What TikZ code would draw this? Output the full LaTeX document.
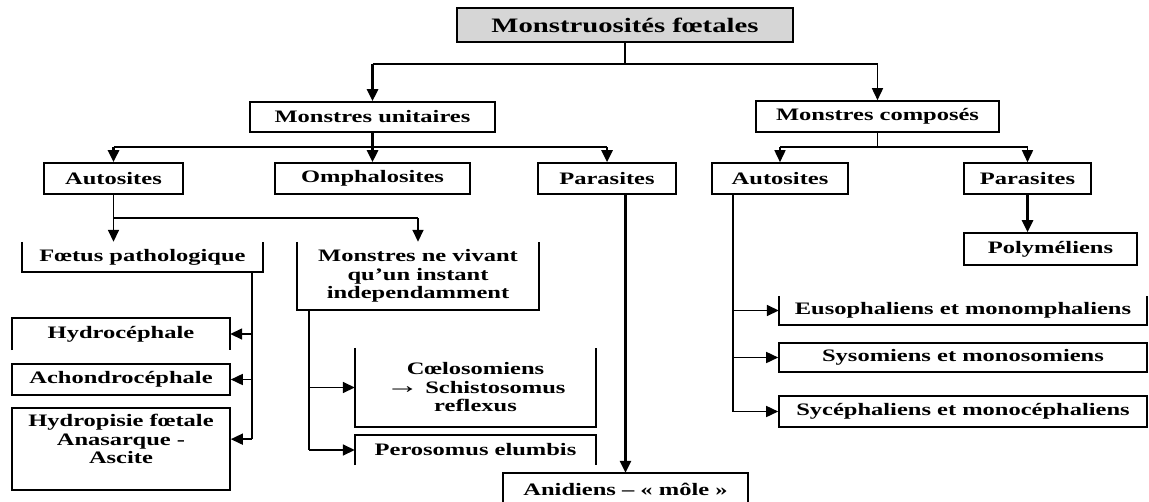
\documentclass[tikz,border=0pt]{standalone}
\usepackage{fontspec}
\setmainfont{Liberation Serif}[FakeStretch=1.4]
\usetikzlibrary{arrows.meta,positioning}
\definecolor{titlegray}{HTML}{D6D6D6}

\begin{document}
\begin{tikzpicture}[x=1pt, y=-1pt, >={Triangle[length=12pt,width=11pt]},
  every node/.style={font=\fontsize{17.5}{18.5}\selectfont\bfseries, align=center, inner sep=0pt},
  box/.style={draw, line width=1.6pt, minimum height=31pt},
  bare/.style={minimum height=30pt},
  link/.style={line width=1.6pt},
  bold/.style={line width=2.6pt}]
  \path[use as bounding box, fill=white] (0,0) rectangle (1149,501);

  \node[box, fill=titlegray, minimum width=336pt, minimum height=34pt, font=\fontsize{20.5}{22}\selectfont\bfseries] (mf) at (625,25) {Monstruosités fœtales};
  \node[box, minimum width=245pt, minimum height=30pt] (mu) at (372.5,117) {Monstres unitaires};
  \node[box, minimum width=243pt] (mc) at (877.5,116.5) {Monstres composés};
  \node[box, minimum width=139pt] (au) at (113.5,178.5) {Autosites};
  \node[box, minimum width=195pt] (om) at (372.5,178.5) {Omphalosites};
  \node[box, minimum width=138pt] (pu) at (607,178.5) {Parasites};
  \node[box, minimum width=136pt] (ac) at (780,178.5) {Autosites};
  \node[box, minimum width=127pt] (pc) at (1027.5,178.5) {Parasites};
  \node[box, minimum width=173pt, minimum height=32pt] (poly) at (1050.5,249) {Polyméliens};
  \node[bare, minimum width=241pt] (fp) at (142.5,257) {Fœtus pathologique};
  \node[bare, minimum width=242pt, minimum height=68pt] (mnv) at (418,276) {Monstres ne vivant\\qu'un instant\\independamment};
  \node[bare, minimum width=218pt, minimum height=32pt] (hc) at (121,334) {Hydrocéphale};
  \node[box, minimum width=218pt] (ach) at (121,379.5) {Achondrocéphale};
  \node[box, minimum width=218pt, minimum height=82pt] (hf) at (121,449) {};
  \node[below=7pt of hf.north] (hft) {Hydropisie fœtale\\Anasarque -\\Ascite};
  \node[bare, minimum width=241pt, minimum height=79pt] (cs) at (475.5,387.5) {Cœlosomiens\\{\fontsize{24}{18.5}\selectfont→} Schistosomus\\reflexus};
  \node[bare, minimum width=241pt] (pe) at (475.5,450) {Perosomus elumbis};
  \node[bare, minimum width=245pt, minimum height=32pt] (an) at (625.5,489) {Anidiens – « môle »};
  \node[bare, minimum width=368pt, minimum height=29pt] (eu) at (963,310.5) {Eusophaliens et monomphaliens};
  \node[box, minimum width=368pt, minimum height=29pt] (sy) at (963,357.5) {Sysomiens et monosomiens};
  \node[box, minimum width=368pt] (sc) at (963,411.5) {Sycéphaliens et monocéphaliens};

  \foreach \n in {fp,mnv,cs,eu}
    \draw[link] (\n.north west) |- (\n.south east) -- (\n.north east);
  \foreach \n in {hc,pe,an}
    \draw[link] (\n.south west) |- (\n.north east) -- (\n.south east);

  \coordinate (b0) at (625,64);
  \draw[link] (mf.south) -- (b0);
  \draw[link] (mu.north |- b0) -- (mc.north |- b0);
  \draw[bold,->] (mu.north |- b0) -- (mu.north);
  \draw[link,->] (mc.north |- b0) -- (mc.north);

  \coordinate (b1) at (372.5,147);
  \draw[bold] (mu.south) -- (b1);
  \draw[link] (au.north |- b1) -- (pu.north |- b1);
  \foreach \n in {au,om,pu}
    \draw[bold,->] (\n.north |- b1) -- (\n.north);

  \coordinate (b2) at (877.5,147);
  \draw[link] (mc.south) -- (b2);
  \draw[link] (ac.north |- b2) -- (pc.north |- b2);
  \foreach \n in {ac,pc}
    \draw[link,->] (\n.north |- b2) -- (\n.north);

  \coordinate (b3) at (113.5,218);
  \draw[link] (au.south) -- (b3) -- (b3 -| mnv.north);
  \draw[link,->] (b3) -- (b3 |- fp.north);
  \draw[link,->] (b3 -| mnv.north) -- (mnv.north);

  \coordinate (fv) at (252,272);
  \draw[link] (fv) -- (fv |- hft);
  \foreach \n in {hc,ach}
    \draw[link,->] (fv |- \n.east) -- (\n.east);
  \draw[link,->] (fv |- hft) -- (hf.east |- hft);

  \coordinate (mv) at (309,310);
  \draw[link] (mv) -- (mv |- pe.west);
  \foreach \n in {cs,pe}
    \draw[link,->] (mv |- \n.west) -- (\n.west);

  \draw[bold,->] (an.north |- pu.south) -- (an.north);

  \coordinate (av) at (733,194);
  \draw[link] (av) -- (av |- sc.west);
  \foreach \n in {eu,sy,sc}
    \draw[link,->] (av |- \n.west) -- (\n.west);

  \draw[bold,->] (pc.south) -- (pc.south |- poly.north);
\end{tikzpicture}
\end{document}
